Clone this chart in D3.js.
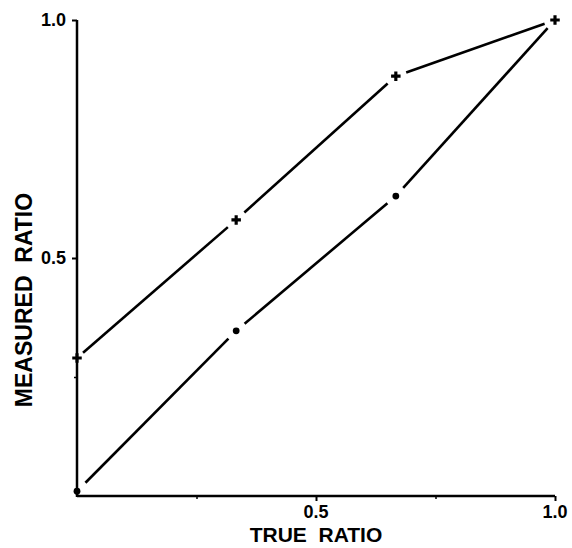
<!DOCTYPE html>
<html lang="en">
<head>
<meta charset="utf-8">
<title>Measured vs true ratio</title>
<script src="https://cdn.jsdelivr.net/npm/d3@7"></script>
<style>
  body { margin: 0; background: #fff; }
  svg text { font-family: "Liberation Sans", Arial, sans-serif; font-weight: bold; fill: #000; white-space: pre; }
</style>
</head>
<body>
<script>
// data
var trueRatio = [0, 0.333, 0.667, 1.0];
var upperMeasured = [0.29, 0.58, 0.882, 1.0];
var lowerMeasured = [0.01, 0.347, 0.63, 1.0];
var xTickValues = [0.5, 1.0];
var xTickLabels = ["0.5", "1.0"];
var xMinorTicks = [0.25, 0.75];
var yTickValues = [0.5, 1.0];
var yTickLabels = ["0.5", "1.0"];
var yMinorTicks = [0.25];

var w = 572, h = 548;
var svg = d3.select("body").append("svg")
    .attr("width", w)
    .attr("height", h);

var x = d3.scaleLinear().domain([0, 1]).range([77, 555]);
var y = d3.scaleLinear().domain([0, 1]).range([496, 20]);

// axes (tick marks from d3, labels set by hand below)
var gx = svg.append("g")
    .attr("transform", "translate(0," + y(0) + ")")
    .call(d3.axisBottom(x).tickValues(xTickValues).tickSize(5).tickFormat(""));
gx.select(".domain").remove();
gx.append("line")
    .attr("x1", x(0)).attr("x2", x(1))
    .attr("stroke", "#000").attr("stroke-width", 2.5);
gx.selectAll(".tick line").attr("stroke-width", 2);

var gxm = svg.append("g")
    .attr("transform", "translate(0," + y(0) + ")")
    .call(d3.axisBottom(x).tickValues(xMinorTicks).tickSize(3).tickFormat(""));
gxm.select(".domain").remove();
gxm.selectAll(".tick line").attr("stroke-width", 1.5);

var gy = svg.append("g")
    .attr("transform", "translate(" + x(0) + ",0)")
    .call(d3.axisLeft(y).tickValues(yTickValues).tickSize(5).tickFormat(""));
gy.select(".domain").remove();
gy.append("line")
    .attr("y1", y(0) + 1).attr("y2", y(1))
    .attr("stroke", "#000").attr("stroke-width", 2.5);
gy.selectAll(".tick line").attr("stroke-width", 2);

var gym = svg.append("g")
    .attr("transform", "translate(" + x(0) + ",0)")
    .call(d3.axisLeft(y).tickValues(yMinorTicks).tickSize(3).tickFormat(""));
gym.select(".domain").remove();
gym.selectAll(".tick line").attr("stroke-width", 1.5);

svg.selectAll(".xlab")
    .data(xTickValues)
    .enter().append("text")
    .attr("class", "xlab")
    .attr("x", function(d) { return x(d); })
    .attr("y", 518)
    .attr("text-anchor", "middle")
    .style("font-size", "18px")
    .text(function(d, i) { return xTickLabels[i]; });

svg.selectAll(".ylab")
    .data(yTickValues)
    .enter().append("text")
    .attr("class", "ylab")
    .attr("x", x(0) - 11)
    .attr("y", function(d) { return y(d) + 6; })
    .attr("text-anchor", "end")
    .style("font-size", "18px")
    .text(function(d, i) { return yTickLabels[i]; });

// axis titles
svg.append("text")
    .attr("x", x(0.5))
    .attr("y", 542)
    .attr("text-anchor", "middle")
    .style("font-size", "21px")
    .text("TRUE  RATIO");

svg.append("text")
    .attr("transform", "translate(32,300) rotate(-90)")
    .attr("text-anchor", "middle")
    .style("font-size", "23px")
    .text("MEASURED  RATIO");

// line segments with small gaps near the markers
function drawSeries(values, gapStart) {
  var pts = trueRatio.map(function(d, i) { return [x(d), y(values[i])]; });
  for (var i = 0; i < pts.length - 1; i++) {
    var a = pts[i], b = pts[i + 1];
    var dx = b[0] - a[0], dy = b[1] - a[1];
    var len = Math.sqrt(dx * dx + dy * dy);
    var g0 = (i === 0 ? gapStart : 11) / len;
    var g1 = 11 / len;
    svg.append("line")
        .attr("x1", a[0] + dx * g0).attr("y1", a[1] + dy * g0)
        .attr("x2", b[0] - dx * g1).attr("y2", b[1] - dy * g1)
        .attr("stroke", "#000")
        .attr("stroke-width", 2.6);
  }
}

drawSeries(upperMeasured, 8);
drawSeries(lowerMeasured, 12);

// upper markers: small bold crosses
svg.selectAll(".up")
    .data(trueRatio)
    .enter().append("path")
    .attr("class", "up")
    .attr("transform", function(d, i) { return "translate(" + x(d) + "," + y(upperMeasured[i]) + ")"; })
    .attr("d", d3.symbol().type(d3.symbolCross).size(50))
    .attr("fill", "#000");

// lower markers: dots
svg.selectAll(".lo")
    .data(trueRatio.slice(0, 3))
    .enter().append("circle")
    .attr("class", "lo")
    .attr("cx", function(d) { return x(d); })
    .attr("cy", function(d, i) { return y(lowerMeasured[i]); })
    .attr("r", 3.4)
    .attr("fill", "#000");
</script>
</body>
</html>
